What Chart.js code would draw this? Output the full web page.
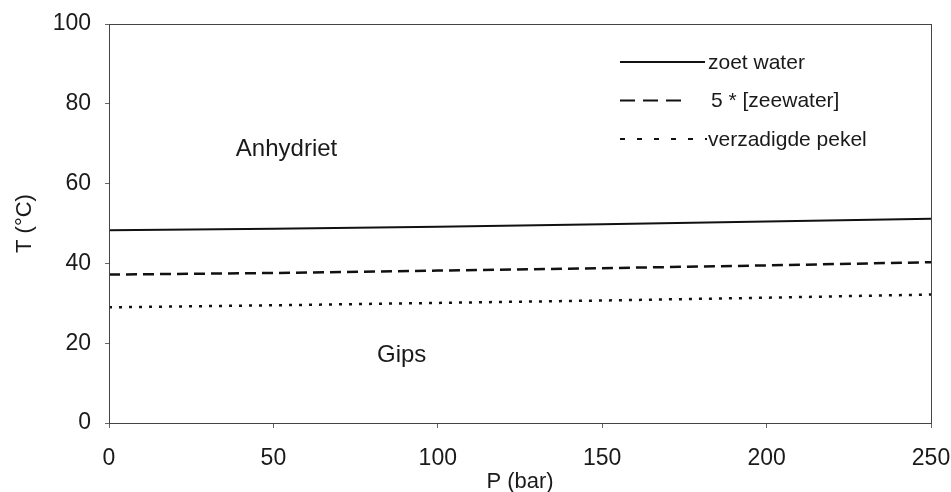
<!DOCTYPE html>
<html>
<head>
<meta charset="utf-8">
<script src="https://cdn.jsdelivr.net/npm/chart.js@4/dist/chart.umd.min.js"></script>
<style>
    html, body { margin: 0; padding: 0; background: #fff; }
    #wrap { width: 951px; height: 492px; }
</style>
</head>
<body>
<div id="wrap"><canvas id="lineChart"></canvas></div>
<script>
// data
var pressure = [0, 50, 100, 150, 200, 250];
var zoetWater = [48.3, 48.7, 49.2, 49.8, 50.5, 51.2];
var zeeWater5 = [37.2, 37.6, 38.2, 38.8, 39.5, 40.3];
var pekel = [29.0, 29.5, 30.1, 30.7, 31.4, 32.2];
var seriesNames = ['zoet water', '5 * [zeewater]', 'verzadigde pekel'];
var xTicks = [0, 50, 100, 150, 200, 250];
var yTicks = [0, 20, 40, 60, 80, 100];
var regionLabels = [
    { text: 'Anhydriet', x: 54, y: 68.6 },
    { text: 'Gips', x: 89, y: 17 }
];

var FONT = '"Liberation Sans", Arial, sans-serif';
var INK = '#1a1a1a';

function toPoints(ys) {
    return pressure.map(function (p, i) { return { x: p, y: ys[i] }; });
}

// frame, region names and legend
var extras = {
    id: 'extras',
    afterDraw: function (chart) {
        var ctx = chart.ctx;
        var area = chart.chartArea;
        var xs = chart.scales.x, ys = chart.scales.y;
        ctx.save();
        ctx.strokeStyle = '#444';
        ctx.lineWidth = 1;
        ctx.strokeRect(area.left + 0.5, area.top + 0.5, area.right - area.left, area.bottom - area.top);

        ctx.fillStyle = INK;
        ctx.font = '24px ' + FONT;
        ctx.textAlign = 'center';
        ctx.textBaseline = 'middle';
        regionLabels.forEach(function (r) {
            ctx.fillText(r.text, xs.getPixelForValue(r.x), ys.getPixelForValue(r.y));
        });

        // legend
        var lx = area.left + 511, rowY = area.top + 38, gap = 38.5;
        chart.data.datasets.forEach(function (ds, i) {
            var y = rowY + i * gap;
            ctx.strokeStyle = ds.borderColor;
            ctx.lineWidth = 2;
            ctx.setLineDash(ds.legendDash || []);
            ctx.beginPath();
            ctx.moveTo(lx, y);
            ctx.lineTo(lx + ds.legendLen, y);
            ctx.stroke();
            ctx.setLineDash([]);
            ctx.fillStyle = INK;
            ctx.font = '21px ' + FONT;
            ctx.textAlign = 'left';
            ctx.fillText(ds.label, lx + 88 + (i === 1 ? 3 : 0), y + 1);
        });
        ctx.restore();
    }
};

var ctx = document.getElementById('lineChart').getContext('2d');
var chart = new Chart(ctx, {
    type: 'scatter',
    data: {
        datasets: [{
            label: seriesNames[0],
            data: toPoints(zoetWater),
            showLine: true,
            borderColor: '#111',
            borderWidth: 2,
            pointRadius: 0,
            legendDash: [],
            legendLen: 85
        }, {
            label: seriesNames[1],
            data: toPoints(zeeWater5),
            showLine: true,
            borderColor: '#111',
            borderWidth: 2.5,
            borderDash: [11, 6],
            pointRadius: 0,
            legendDash: [15, 8],
            legendLen: 61
        }, {
            label: seriesNames[2],
            data: toPoints(pekel),
            showLine: true,
            borderColor: '#111',
            borderWidth: 2.5,
            borderDash: [3, 7],
            pointRadius: 0,
            legendDash: [5, 12],
            legendLen: 87
        }]
    },
    options: {
        responsive: true,
        maintainAspectRatio: false,
        animation: false,
        layout: { padding: { left: 0, right: 20, top: 24, bottom: 0 } },
        plugins: {
            legend: { display: false },
            tooltip: { enabled: false }
        },
        scales: {
            x: {
                type: 'linear',
                min: 0,
                max: 250,
                afterBuildTicks: function (s) { s.ticks = xTicks.map(function (v) { return { value: v }; }); },
                afterFit: function (s) { s.height = 69; s.paddingLeft = 0; s.paddingRight = 0; },
                grid: { display: true, drawOnChartArea: false, tickLength: 5, color: '#666' },
                border: { display: true, color: '#444' },
                ticks: { color: INK, font: { family: FONT, size: 23 }, padding: 17, maxRotation: 0 },
                title: { display: true, text: 'P (bar)', color: INK, font: { family: FONT, size: 22 }, padding: { top: 0, bottom: -3 } }
            },
            y: {
                min: 0,
                max: 100,
                afterBuildTicks: function (s) { s.ticks = yTicks.map(function (v) { return { value: v }; }); },
                afterFit: function (s) { s.width = 109; s.paddingTop = 0; s.paddingBottom = 0; },
                grid: { display: true, drawOnChartArea: false, tickLength: 4, color: '#666' },
                border: { display: true, color: '#444' },
                ticks: { color: INK, font: { family: FONT, size: 23 }, padding: 14 },
                title: { display: true, text: 'T (°C)', color: INK, font: { family: FONT, size: 22 }, padding: { top: 12, bottom: 0 } }
            }
        }
    },
    plugins: [extras]
});
</script>
</body>
</html>
